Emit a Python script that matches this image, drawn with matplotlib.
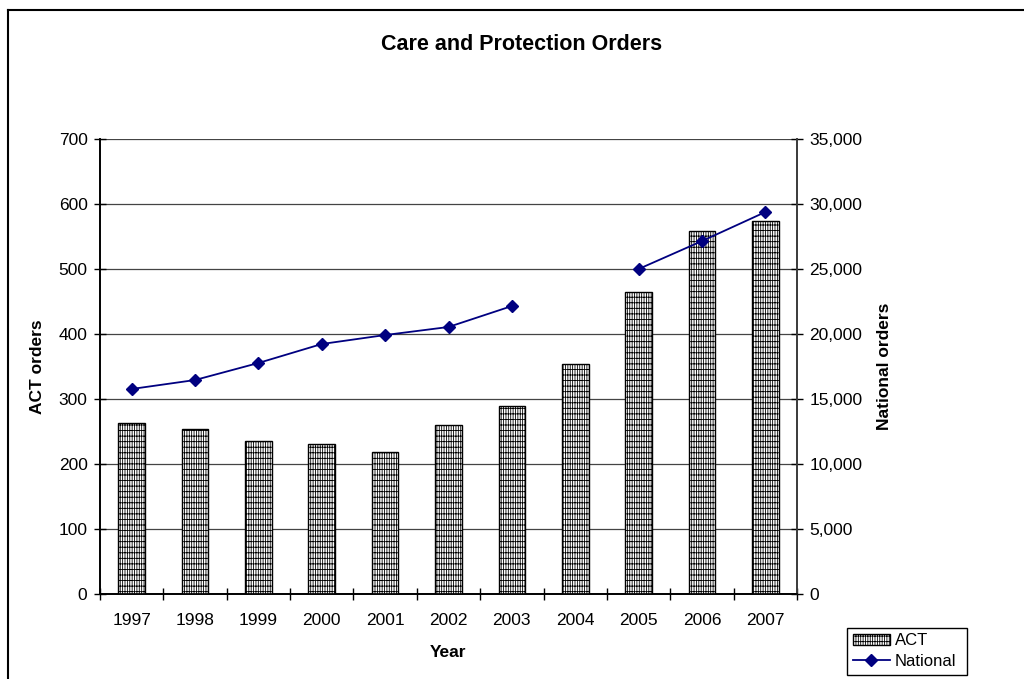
import matplotlib
matplotlib.use("Agg")
import matplotlib.pyplot as plt
import numpy as np
from matplotlib.lines import Line2D
from matplotlib.ticker import FuncFormatter, MultipleLocator, FixedLocator

plt.rcParams['font.family'] = ['Liberation Sans', 'DejaVu Sans']
plt.rcParams['hatch.linewidth'] = 0.6

years = ['1997', '1998', '1999', '2000', '2001', '2002', '2003', '2004', '2005', '2006', '2007']
act_orders = [263, 254, 235, 231, 218, 260, 289, 354, 465, 558, 574]
national_orders = [15770, 16460, 17770, 19230, 19920, 20540, 22150, np.nan, 25000, 27150, 29380]

fig = plt.figure(figsize=(10.24, 6.79), dpi=100)
ax = fig.add_axes([100/1024, 1-594/679, 697/1024, 455/679])
ax2 = ax.twinx()

x = np.arange(len(years))
ax.bar(x, act_orders, width=0.42, facecolor='white', edgecolor='black',
       linewidth=1.0, hatch='|' * 7 + '-' * 3, zorder=3, label='ACT')
ax2.plot(x, national_orders, color='#000080', marker='D', markersize=6,
         linewidth=1.3, label='National', zorder=4)

ax.set_xlim(-0.5, len(years) - 0.5)
ax.set_ylim(0, 700)
ax2.set_ylim(0, 35000)
ax.yaxis.set_major_locator(MultipleLocator(100))
ax2.yaxis.set_major_locator(MultipleLocator(5000))
ax2.yaxis.set_major_formatter(FuncFormatter(lambda v, p: f'{int(v):,}'))

fs = 12.5
ax.set_xticks(x)
ax.set_xticklabels(years)
ax.xaxis.set_minor_locator(FixedLocator(np.arange(-0.5, len(years), 1.0)))
ax.tick_params(axis='x', which='major', length=0, pad=14, labelsize=fs)
ax.tick_params(axis='x', which='minor', length=8, direction='inout', width=1)
ax.tick_params(axis='y', length=8, direction='inout', width=1, labelsize=fs, pad=5)
ax2.tick_params(axis='y', length=8, direction='inout', width=1, labelsize=fs, pad=5)

ax.grid(axis='y', color='#444444', linewidth=0.9, zorder=0)
ax.set_axisbelow(True)
for a in (ax, ax2):
    a.spines['top'].set_visible(False)
    a.spines['left'].set_linewidth(1.2)
    a.spines['right'].set_linewidth(1.2)
    a.spines['bottom'].set_linewidth(1.2)
ax2.spines['right'].set_color('#444444')

ax.set_xlabel('Year', fontweight='bold', fontsize=fs, labelpad=12)
ax.set_ylabel('ACT orders', fontweight='bold', fontsize=fs, labelpad=10)
ax2.set_ylabel('National orders', fontweight='bold', fontsize=fs, labelpad=10)

fig.text(522/1024, 1-45/679, 'Care and Protection Orders', ha='center', va='center',
         fontweight='bold', fontsize=15.5)

h1, l1 = ax.get_legend_handles_labels()
h2, l2 = ax2.get_legend_handles_labels()
fig.legend(h1 + h2, l1 + l2, loc='lower left',
           bbox_to_anchor=(847/1024, 1-675/679, 120/1024, 61/679), mode='expand',
           fancybox=False, edgecolor='black', framealpha=1, fontsize=12,
           borderaxespad=0, borderpad=0.35, handlelength=2.2, handletextpad=0.3,
           labelspacing=0.35)

fig.add_artist(Line2D([7.5/1024, 1.0], [1-9.5/679, 1-9.5/679], color='black', linewidth=1.5,
                      transform=fig.transFigure))
fig.add_artist(Line2D([7.5/1024, 7.5/1024], [0, 1-9.5/679], color='black', linewidth=1.5,
                      transform=fig.transFigure))

fig.savefig('out.png', dpi=100)
